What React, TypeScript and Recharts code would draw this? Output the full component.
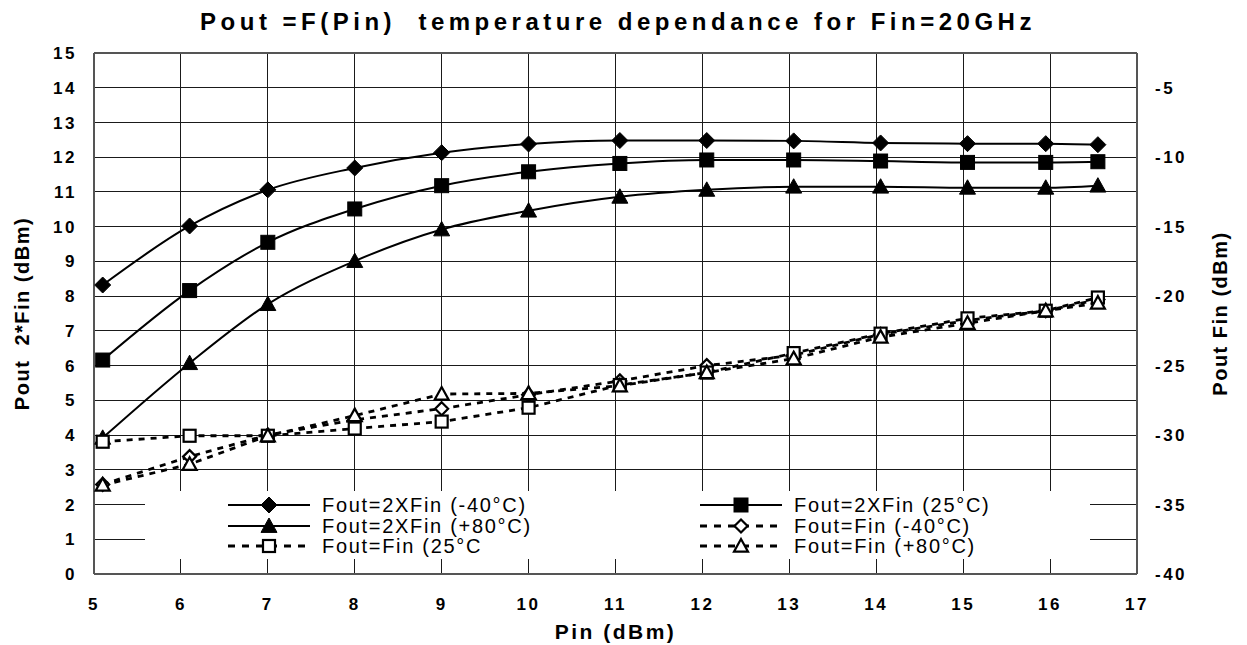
import React from 'react';
import { LineChart, Line, XAxis, YAxis, CartesianGrid, Legend, ReferenceLine } from 'recharts';

// Pin (dBm) values where the points were measured
const pin = [5.1, 6.1, 7.0, 8.0, 9.0, 10.0, 11.05, 12.05, 13.05, 14.05, 15.05, 15.95, 16.55];

// Pout 2*Fin (dBm), left axis
const h2Minus40 = [8.32, 10.02, 11.06, 11.69, 12.13, 12.38, 12.48, 12.48, 12.47, 12.41, 12.39, 12.39, 12.36];
const h2Plus25 = [6.16, 8.16, 9.55, 10.51, 11.18, 11.58, 11.82, 11.92, 11.92, 11.89, 11.85, 11.85, 11.87];
const h2Plus80 = [3.92, 6.07, 7.77, 9.01, 9.92, 10.46, 10.86, 11.06, 11.15, 11.15, 11.12, 11.12, 11.18];

// Pout Fin (dBm), right axis
const fMinus40 = [-33.55, -31.55, -30.0, -28.9, -28.1, -27.1, -26.1, -25.0, -24.25, -22.75, -21.75, -21.05, -20.25];
const fPlus25 = [-30.48, -30.05, -30.05, -29.53, -29.03, -28.03, -26.4, -25.5, -24.1, -22.7, -21.6, -21.05, -20.1];
const fPlus80 = [-33.6, -32.1, -30.05, -28.6, -27.05, -27.0, -26.45, -25.5, -24.5, -22.95, -21.95, -21.05, -20.5];

const xTicks = [5, 6, 7, 8, 9, 10, 11, 12, 13, 14, 15, 16, 17];
const leftTicks = [0, 1, 2, 3, 4, 5, 6, 7, 8, 9, 10, 11, 12, 13, 14, 15];
const rightTicks = [-40, -35, -30, -25, -20, -15, -10, -5];

const series = [
  { key: 'h2m40', name: 'Fout=2XFin (-40°C)', shape: 'diamond', filled: true, axis: 'left', values: h2Minus40 },
  { key: 'h2p25', name: 'Fout=2XFin (25°C)', shape: 'square', filled: true, axis: 'left', values: h2Plus25 },
  { key: 'h2p80', name: 'Fout=2XFin (+80°C)', shape: 'triangle', filled: true, axis: 'left', values: h2Plus80 },
  { key: 'fm40', name: 'Fout=Fin (-40°C)', shape: 'diamond', filled: false, axis: 'right', values: fMinus40 },
  { key: 'fp25', name: 'Fout=Fin (25°C', shape: 'square', filled: false, axis: 'right', values: fPlus25 },
  { key: 'fp80', name: 'Fout=Fin (+80°C)', shape: 'triangle', filled: false, axis: 'right', values: fPlus80 },
];

const data = pin.map((p, i) => {
  const row: Record<string, number> = { pin: p };
  series.forEach((s) => { row[s.key] = s.values[i]; });
  return row;
});

function Marker({ cx, cy, shape, filled }: { cx: number; cy: number; shape: string; filled: boolean }) {
  const fill = filled ? '#000' : '#fff';
  const sw = filled ? 1 : 2.2;
  if (shape === 'diamond') {
    const r = filled ? 8 : 6.5;
    return (
      <polygon
        points={`${cx},${cy - r} ${cx + r},${cy} ${cx},${cy + r} ${cx - r},${cy}`}
        fill={fill} stroke="#000" strokeWidth={sw}
      />
    );
  }
  if (shape === 'square') {
    const s = filled ? 14 : 12;
    return <rect x={cx - s / 2} y={cy - s / 2} width={s} height={s} fill={fill} stroke="#000" strokeWidth={sw} />;
  }
  const w = filled ? 8 : 7;
  return (
    <polygon
      points={`${cx},${cy - w} ${cx + w},${cy + w * 0.8} ${cx - w},${cy + w * 0.8}`}
      fill={fill} stroke="#000" strokeWidth={sw}
    />
  );
}

const dotFor = (shape: string, filled: boolean) => (props: any) => {
  const { cx, cy, index } = props;
  if (cx == null || cy == null) return <g key={`e-${index}`} />;
  return <Marker key={`${shape}-${filled}-${index}`} cx={cx} cy={cy} shape={shape} filled={filled} />;
};

// legend grid: two columns, three rows
const legendCols = [83, 555];
const legendRows = [14, 35, 55];

const renderLegend = () => (
  <div style={{ position: 'relative', width: 945, height: 68, background: '#fff' }}>
    {series.map((s, i) => {
      const col = legendCols[i % 2];
      const row = legendRows[Math.floor(i / 2)];
      return (
        <div key={s.key}>
          <svg
            width={84}
            height={20}
            style={{ position: 'absolute', left: col, top: row - 10, overflow: 'visible' }}
          >
            <line
              x1={0} y1={10} x2={82} y2={10} stroke="#000" strokeWidth={s.filled ? 2 : 3}
              strokeDasharray={s.filled ? undefined : '7 7'}
            />
            <Marker cx={41} cy={10} shape={s.shape} filled={s.filled} />
          </svg>
          <span
            style={{
              position: 'absolute', left: col + 94, top: row - 12, fontSize: 20, lineHeight: '24px',
              letterSpacing: 1.7, whiteSpace: 'pre', color: '#000',
            }}
          >
            {s.name}
          </span>
        </div>
      );
    })}
  </div>
);

const leftTitle = (props: any) => {
  const { viewBox } = props;
  const x = viewBox.x - 12;
  const y = viewBox.y + viewBox.height / 2;
  return (
    <text
      x={x} y={y} transform={`rotate(-90, ${x}, ${y})`} textAnchor="middle" dominantBaseline="central"
      fontSize={20} fontWeight="bold" fill="#000" style={{ letterSpacing: 1.5, whiteSpace: 'pre' }}
    >
      Pout  2*Fin (dBm)
    </text>
  );
};

const rightTitle = (props: any) => {
  const { viewBox } = props;
  const x = viewBox.x + 83;
  const y = viewBox.y + viewBox.height / 2;
  return (
    <text
      x={x} y={y} transform={`rotate(-90, ${x}, ${y})`} textAnchor="middle" dominantBaseline="central"
      fontSize={20} fontWeight="bold" fill="#000" style={{ letterSpacing: 1.5, whiteSpace: 'pre' }}
    >
      Pout Fin (dBm)
    </text>
  );
};

const tickStyle = { fontSize: 17, fontWeight: 'bold', fill: '#000' };
const frame = { stroke: '#555', strokeWidth: 2 };

export default function App() {
  return (
    <div
      style={{
        position: 'absolute', left: 0, top: 0, width: 1247, height: 645, background: '#fff',
        fontFamily: '"Liberation Sans", Arial, sans-serif',
      }}
    >
      <style>{`.recharts-cartesian-axis-tick-value { letter-spacing: 2.5px; }`}</style>
      <div
        style={{
          position: 'absolute', left: 0, top: 10, width: 1236, textAlign: 'center', fontSize: 24,
          lineHeight: '24px', fontWeight: 'bold', letterSpacing: 4.5, whiteSpace: 'pre',
        }}
      >
        Pout =F(Pin)  temperature dependance for Fin=20GHz
      </div>
      <LineChart
        width={1247}
        height={645}
        data={data}
        margin={{ top: 53, right: 30, left: 34, bottom: 31 }}
      >
        <CartesianGrid stroke="#1a1a1a" strokeWidth={1} yAxisId="left" shapeRendering="crispEdges" />
        <XAxis
          dataKey="pin" type="number" domain={[5, 17]} ticks={xTicks} interval={0}
          height={40} tickSize={0} tickMargin={24} tickLine={false} axisLine={frame} tick={tickStyle}
          label={{ value: 'Pin (dBm)', position: 'bottom', offset: 10, fontSize: 21, fontWeight: 'bold', fill: '#000', style: { letterSpacing: 2.5 } }}
        />
        <YAxis
          yAxisId="left" domain={[0, 15]} ticks={leftTicks} interval={0} width={60}
          tickSize={0} tickMargin={17} tickLine={false} axisLine={frame} tick={tickStyle}
          label={{ content: leftTitle }}
        />
        <YAxis
          yAxisId="right" orientation="right" domain={[-40, -2.5]} ticks={rightTicks} interval={0} width={80}
          tickSize={0} tickMargin={18} tickLine={false} axisLine={frame} tick={tickStyle}
          label={{ content: rightTitle }}
        />
        <ReferenceLine yAxisId="left" y={15} stroke="#555" strokeWidth={2} />
        {series.map((s) => (
          <Line
            key={s.key}
            yAxisId={s.axis}
            dataKey={s.key}
            name={s.name}
            type={s.filled ? 'monotone' : 'linear'}
            stroke="#000"
            strokeWidth={s.filled ? 2 : 2.8}
            strokeDasharray={s.filled ? undefined : '6 6'}
            dot={dotFor(s.shape, s.filled)}
            activeDot={false}
            isAnimationActive={false}
          />
        ))}
        <Legend
          layout="horizontal"
          verticalAlign="middle"
          align="center"
          content={renderLegend}
          wrapperStyle={{ position: 'absolute', left: 145, top: 491, width: 945, height: 68 }}
        />
      </LineChart>
    </div>
  );
}
